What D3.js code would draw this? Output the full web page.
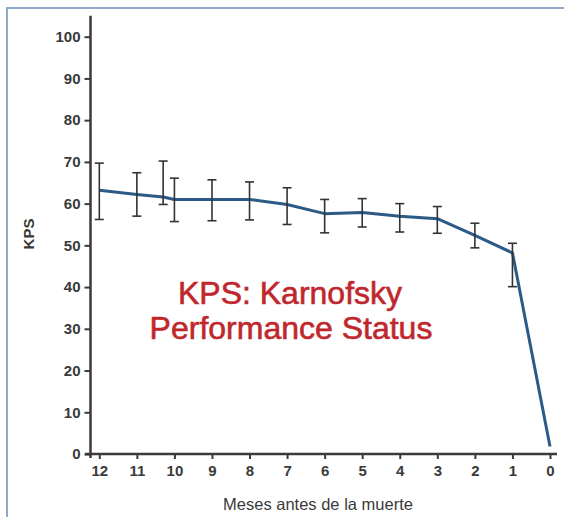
<!DOCTYPE html>
<html>
<head>
<meta charset="utf-8">
<script src="https://cdn.jsdelivr.net/npm/d3@7"></script>
<style>
  html, body { margin: 0; padding: 0; background: #fff; }
  svg { display: block; }
</style>
</head>
<body>
<div id="chart"></div>
<script>
// KPS over the last 12 months before death
const months = [12, 11, 10.3, 10, 9, 8, 7, 6, 5, 4, 3, 2, 1, 0];
const kps    = [63.2, 62.2, 61.6, 61.0, 61.0, 61.0, 59.8, 57.6, 57.9, 57.0, 56.4, 52.4, 48.2, 1.8];
const upper  = [69.7, 67.4, 70.2, 66.1, 65.7, 65.2, 63.8, 61.0, 61.2, 60.0, 59.3, 55.3, 50.5, null];
const lower  = [56.2, 57.0, 59.8, 55.7, 55.9, 56.1, 55.0, 53.0, 54.4, 53.2, 52.9, 49.4, 40.1, null];
const xTicks = [12, 11, 10, 9, 8, 7, 6, 5, 4, 3, 2, 1, 0];
const yTicks = [0, 10, 20, 30, 40, 50, 60, 70, 80, 90, 100];

const W = 564, H = 517;
const font = "'Liberation Sans', Arial, Helvetica, sans-serif";
const ink = "#3a3a3a";

const svg = d3.select("#chart").append("svg")
  .attr("width", W)
  .attr("height", H);

// light frame (top + left edges)
svg.append("line").attr("x1", 7).attr("x2", W).attr("y1", 8).attr("y2", 8)
  .attr("stroke", "#8eaacb").attr("stroke-width", 2);
svg.append("line").attr("x1", 7).attr("x2", 7).attr("y1", 7).attr("y2", H)
  .attr("stroke", "#8eaacb").attr("stroke-width", 2);

const x = d3.scaleLinear().domain([12, 0]).range([99.3, 550]);
const y = d3.scaleLinear().domain([0, 100]).range([454, 36.7]);
const x0 = 90.5;

// y axis
const gy = svg.append("g")
  .attr("transform", `translate(${x0},0)`)
  .call(d3.axisLeft(y).tickValues(yTicks).tickSize(6).tickPadding(4));
gy.select(".domain").remove();
gy.selectAll(".tick line").attr("stroke", ink).attr("stroke-width", 2);
gy.selectAll(".tick text")
  .attr("fill", ink)
  .attr("font-family", font)
  .attr("font-size", 15)
  .attr("font-weight", "bold");
svg.append("line")
  .attr("x1", x0).attr("x2", x0)
  .attr("y1", y(105)).attr("y2", y(0) + 4)
  .attr("stroke", ink).attr("stroke-width", 2.5);

// x axis
const gx = svg.append("g")
  .attr("transform", `translate(0,${y(0)})`)
  .call(d3.axisBottom(x).tickValues(xTicks).tickSize(5).tickPadding(6));
gx.select(".domain").remove();
gx.selectAll(".tick line").attr("stroke", ink).attr("stroke-width", 2);
gx.selectAll(".tick text")
  .attr("fill", ink)
  .attr("font-family", font)
  .attr("font-size", 15)
  .attr("font-weight", "bold");
svg.append("line")
  .attr("x1", 85).attr("x2", 557)
  .attr("y1", y(0)).attr("y2", y(0))
  .attr("stroke", ink).attr("stroke-width", 2.5);

// axis titles
svg.append("text")
  .attr("transform", "translate(34,234) rotate(-90)")
  .attr("text-anchor", "middle")
  .attr("font-family", font)
  .attr("font-size", 15)
  .attr("font-weight", "bold")
  .attr("fill", ink)
  .text("KPS");

svg.append("text")
  .attr("x", 318).attr("y", 510)
  .attr("text-anchor", "middle")
  .attr("font-family", font)
  .attr("font-size", 16.5)
  .attr("fill", ink)
  .text("Meses antes de la muerte");

// data line
const pts = months.map((m, i) => ({ m, v: kps[i], hi: upper[i], lo: lower[i] }));
svg.append("path")
  .datum(pts)
  .attr("fill", "none")
  .attr("stroke", "#2b5a86")
  .attr("stroke-width", 3)
  .attr("stroke-linejoin", "round")
  .attr("d", d3.line().x(d => x(d.m)).y(d => y(d.v)));

// error bars
const eb = svg.append("g").attr("stroke", "#333").attr("stroke-width", 1.6);
const bars = pts.filter(d => d.hi != null);
eb.selectAll(".v").data(bars).join("line")
  .attr("x1", d => x(d.m)).attr("x2", d => x(d.m))
  .attr("y1", d => y(d.hi)).attr("y2", d => y(d.lo));
eb.selectAll(".t").data(bars).join("line")
  .attr("x1", d => x(d.m) - 4.5).attr("x2", d => x(d.m) + 4.5)
  .attr("y1", d => y(d.hi)).attr("y2", d => y(d.hi));
eb.selectAll(".b").data(bars).join("line")
  .attr("x1", d => x(d.m) - 4.5).attr("x2", d => x(d.m) + 4.5)
  .attr("y1", d => y(d.lo)).attr("y2", d => y(d.lo));

// annotation
const note = svg.append("text")
  .attr("text-anchor", "middle")
  .attr("font-family", font)
  .attr("font-size", 32)
  .attr("fill", "#c0272d")
  .attr("stroke", "#c0272d")
  .attr("stroke-width", 0.6);
note.append("tspan").attr("x", 290).attr("y", 304).text("KPS: Karnofsky");
note.append("tspan").attr("x", 291).attr("y", 339).text("Performance Status");
</script>
</body>
</html>
